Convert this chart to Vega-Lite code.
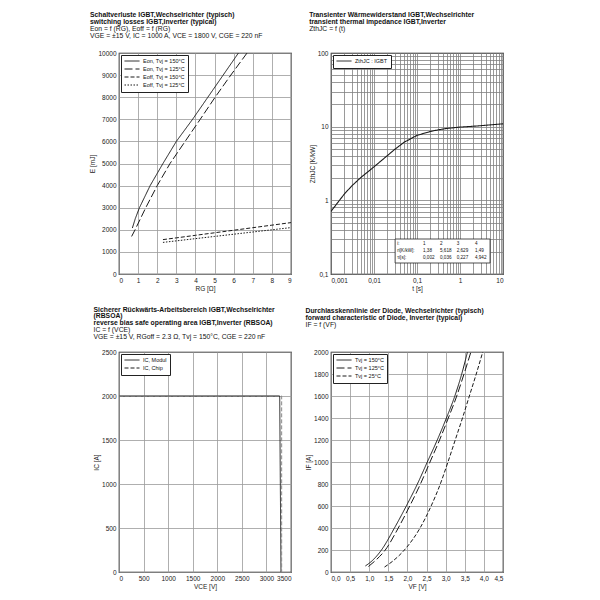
{
  "$schema": "https://vega.github.io/schema/vega-lite/v6.json",
  "background": "white",
  "padding": {"left": 89, "top": 11, "right": 5, "bottom": 5},
  "bounds": "flush",
  "columns": 2,
  "spacing": {"row": 78, "column": 40},
  "resolve": {"scale": {"strokeDash": "independent", "color": "independent"}, "legend": {"strokeDash": "independent"}},
  "config": {
    "font": "Liberation Sans",
    "view": {"stroke": "#111111", "strokeWidth": 1.2},
    "title": {"anchor": "start", "frame": "bounds", "font": "Liberation Sans", "fontSize": 6.8, "fontWeight": "bold", "lineHeight": 6.8, "color": "#111111", "subtitleFont": "Liberation Sans", "subtitleFontSize": 6.8, "subtitleLineHeight": 6.8, "subtitleColor": "#111111", "subtitlePadding": 0.5},
    "axis": {"grid": true, "gridColor": "#9a9a9a", "gridWidth": 0.8, "domain": false, "ticks": false, "labelFont": "Liberation Sans", "labelFontSize": 6.5, "labelColor": "#222222", "labelPadding": 3, "titleFont": "Liberation Sans", "titleFontSize": 6.5, "titleFontWeight": "normal", "titleColor": "#222222", "titlePadding": 2, "labelOverlap": false},
    "legend": {"orient": "top-left", "offset": 2, "strokeColor": "#222222", "fillColor": "white", "padding": 3, "symbolType": "M-1,0H5", "symbolSize": 25, "symbolStrokeColor": "#1a1a1a", "symbolStrokeWidth": 1, "symbolFillColor": "transparent", "labelFont": "Liberation Sans", "labelFontSize": 5.5, "labelOffset": 13, "rowPadding": 1, "labelColor": "#111111", "title": null}
  },
  "concat": [
    {
      "width": 172, "height": 221,
      "title": {"text": ["Schaltverluste IGBT,Wechselrichter (typisch)", "switching losses IGBT,Inverter (typical)"], "subtitle": ["Eon = f (RG), Eoff = f (RG)", "VGE = ±15 V, IC = 1000 A, VCE = 1800 V, CGE = 220 nF"], "offset": 10},
      "data": {"values": [
        {"curve": "Eon, Tvj = 150°C", "RG": 0.7, "E": 2080},
        {"curve": "Eon, Tvj = 150°C", "RG": 0.85, "E": 2500},
        {"curve": "Eon, Tvj = 150°C", "RG": 1.07, "E": 3000},
        {"curve": "Eon, Tvj = 150°C", "RG": 1.63, "E": 4000},
        {"curve": "Eon, Tvj = 150°C", "RG": 2.3, "E": 5000},
        {"curve": "Eon, Tvj = 150°C", "RG": 3.0, "E": 6000},
        {"curve": "Eon, Tvj = 150°C", "RG": 3.85, "E": 7000},
        {"curve": "Eon, Tvj = 150°C", "RG": 4.65, "E": 8000},
        {"curve": "Eon, Tvj = 150°C", "RG": 5.45, "E": 9000},
        {"curve": "Eon, Tvj = 150°C", "RG": 6.25, "E": 10000},
        {"curve": "Eon, Tvj = 125°C", "RG": 0.66, "E": 1700},
        {"curve": "Eon, Tvj = 125°C", "RG": 0.84, "E": 2000},
        {"curve": "Eon, Tvj = 125°C", "RG": 1.4, "E": 3000},
        {"curve": "Eon, Tvj = 125°C", "RG": 2.0, "E": 4000},
        {"curve": "Eon, Tvj = 125°C", "RG": 2.67, "E": 5000},
        {"curve": "Eon, Tvj = 125°C", "RG": 3.46, "E": 6000},
        {"curve": "Eon, Tvj = 125°C", "RG": 4.25, "E": 7000},
        {"curve": "Eon, Tvj = 125°C", "RG": 5.03, "E": 8000},
        {"curve": "Eon, Tvj = 125°C", "RG": 5.85, "E": 9000},
        {"curve": "Eon, Tvj = 125°C", "RG": 6.7, "E": 10000},
        {"curve": "Eoff, Tvj = 150°C", "RG": 2.3, "E": 1556},
        {"curve": "Eoff, Tvj = 150°C", "RG": 3, "E": 1635},
        {"curve": "Eoff, Tvj = 150°C", "RG": 4, "E": 1750},
        {"curve": "Eoff, Tvj = 150°C", "RG": 5, "E": 1865},
        {"curve": "Eoff, Tvj = 150°C", "RG": 6, "E": 1980},
        {"curve": "Eoff, Tvj = 150°C", "RG": 7, "E": 2095},
        {"curve": "Eoff, Tvj = 150°C", "RG": 8, "E": 2210},
        {"curve": "Eoff, Tvj = 150°C", "RG": 9, "E": 2326},
        {"curve": "Eoff, Tvj = 125°C", "RG": 2.3, "E": 1430},
        {"curve": "Eoff, Tvj = 125°C", "RG": 3, "E": 1500},
        {"curve": "Eoff, Tvj = 125°C", "RG": 4, "E": 1600},
        {"curve": "Eoff, Tvj = 125°C", "RG": 5, "E": 1700},
        {"curve": "Eoff, Tvj = 125°C", "RG": 6, "E": 1800},
        {"curve": "Eoff, Tvj = 125°C", "RG": 7, "E": 1900},
        {"curve": "Eoff, Tvj = 125°C", "RG": 8, "E": 2000},
        {"curve": "Eoff, Tvj = 125°C", "RG": 9, "E": 2100}
      ]},
      "mark": {"type": "line", "color": "#1a1a1a", "strokeWidth": 1, "clip": true},
      "encoding": {
        "x": {"field": "RG", "type": "quantitative", "scale": {"domain": [0, 9], "nice": false}, "axis": {"title": "RG [Ω]", "values": [0, 1, 2, 3, 4, 5, 6, 7, 8, 9]}},
        "y": {"field": "E", "type": "quantitative", "scale": {"domain": [0, 10000], "nice": false}, "axis": {"title": "E [mJ]", "values": [0, 1000, 2000, 3000, 4000, 5000, 6000, 7000, 8000, 9000, 10000], "format": "d"}},
        "strokeDash": {"field": "curve", "type": "nominal", "scale": {"domain": ["Eon, Tvj = 150°C", "Eon, Tvj = 125°C", "Eoff, Tvj = 150°C", "Eoff, Tvj = 125°C"], "range": [[1, 0], [8, 3], [4, 2], [1.5, 1.5]]}, "legend": {"title": null}}
      }
    },
    {
      "width": 172, "height": 221,
      "title": {"text": ["Transienter Wärmewiderstand IGBT,Wechselrichter", "transient thermal impedance IGBT,Inverter"], "subtitle": ["ZthJC = f (t)"], "offset": 17},
      "layer": [
        {
          "data": {"values": [
            {"s": "ZthJC : IGBT", "t": 0.001, "Z": 0.709},
            {"s": "ZthJC : IGBT", "t": 0.002, "Z": 1.199},
            {"s": "ZthJC : IGBT", "t": 0.003, "Z": 1.557},
            {"s": "ZthJC : IGBT", "t": 0.005, "Z": 2.054},
            {"s": "ZthJC : IGBT", "t": 0.01, "Z": 2.850},
            {"s": "ZthJC : IGBT", "t": 0.02, "Z": 4.002},
            {"s": "ZthJC : IGBT", "t": 0.03, "Z": 4.891},
            {"s": "ZthJC : IGBT", "t": 0.05, "Z": 6.132},
            {"s": "ZthJC : IGBT", "t": 0.1, "Z": 7.615},
            {"s": "ZthJC : IGBT", "t": 0.2, "Z": 8.575},
            {"s": "ZthJC : IGBT", "t": 0.3, "Z": 9.012},
            {"s": "ZthJC : IGBT", "t": 0.5, "Z": 9.480},
            {"s": "ZthJC : IGBT", "t": 1, "Z": 9.868},
            {"s": "ZthJC : IGBT", "t": 2, "Z": 10.122},
            {"s": "ZthJC : IGBT", "t": 3, "Z": 10.305},
            {"s": "ZthJC : IGBT", "t": 5, "Z": 10.575},
            {"s": "ZthJC : IGBT", "t": 10, "Z": 10.920}
          ]},
          "mark": {"type": "line", "color": "#1a1a1a", "strokeWidth": 1.1, "clip": true},
          "encoding": {
            "x": {"field": "t", "type": "quantitative", "scale": {"type": "log", "domain": [0.001, 10], "nice": false}, "axis": {"title": "t [s]", "gridColor": "#808080", "values": [0.001, 0.002, 0.003, 0.004, 0.005, 0.006, 0.007, 0.008, 0.009, 0.01, 0.02, 0.03, 0.04, 0.05, 0.06, 0.07, 0.08, 0.09, 0.1, 0.2, 0.3, 0.4, 0.5, 0.6, 0.7, 0.8, 0.9, 1, 2, 3, 4, 5, 6, 7, 8, 9, 10], "labelExpr": "datum.value==0.001?'0,001':datum.value==0.01?'0,01':datum.value==0.1?'0,1':datum.value==1?'1':datum.value==10?'10':''"}},
            "y": {"field": "Z", "type": "quantitative", "scale": {"type": "log", "domain": [0.1, 100], "nice": false}, "axis": {"title": "ZthJC [K/kW]", "gridColor": "#808080", "values": [0.1, 0.2, 0.3, 0.4, 0.5, 0.6, 0.7, 0.8, 0.9, 1, 2, 3, 4, 5, 6, 7, 8, 9, 10, 20, 30, 40, 50, 60, 70, 80, 90, 100], "labelExpr": "datum.value==0.1?'0,1':datum.value==1?'1':datum.value==10?'10':datum.value==100?'100':''"}},
            "strokeDash": {"field": "s", "type": "nominal", "scale": {"domain": ["ZthJC : IGBT"], "range": [[1, 0]]}, "legend": {"title": null}}
          }
        },
        {
          "data": {"values": [{"box": "Foster"}]},
          "mark": {"type": "rect", "fill": "white", "stroke": "#222222", "strokeWidth": 0.8},
          "encoding": {"x": {"datum": 0.031}, "x2": {"datum": 5.0}, "y": {"datum": 0.2985}, "y2": {"datum": 0.141}}
        },
        {
          "data": {"values": [
            {"t": 0.0348, "z": 0.253, "txt": "i:"},
            {"t": 0.138, "z": 0.253, "txt": "1"},
            {"t": 0.343, "z": 0.253, "txt": "2"},
            {"t": 0.838, "z": 0.253, "txt": "3"},
            {"t": 2.23, "z": 0.253, "txt": "4"},
            {"t": 0.0348, "z": 0.205, "txt": "ri[K/kW]:"},
            {"t": 0.138, "z": 0.205, "txt": "1,38"},
            {"t": 0.343, "z": 0.205, "txt": "5,618"},
            {"t": 0.838, "z": 0.205, "txt": "2,629"},
            {"t": 2.23, "z": 0.205, "txt": "1,49"},
            {"t": 0.0348, "z": 0.166, "txt": "τi[s]:"},
            {"t": 0.138, "z": 0.166, "txt": "0,002"},
            {"t": 0.343, "z": 0.166, "txt": "0,036"},
            {"t": 0.838, "z": 0.166, "txt": "0,227"},
            {"t": 2.23, "z": 0.166, "txt": "4,942"}
          ]},
          "mark": {"type": "text", "align": "left", "baseline": "middle", "fontSize": 4.6, "font": "Liberation Sans", "color": "#111111"},
          "encoding": {"x": {"field": "t", "type": "quantitative"}, "y": {"field": "z", "type": "quantitative"}, "text": {"field": "txt"}}
        }
      ]
    },
    {
      "width": 172, "height": 220,
      "title": {"text": ["Sicherer Rückwärts-Arbeitsbereich IGBT,Wechselrichter", "(RBSOA)", "reverse bias safe operating area IGBT,Inverter (RBSOA)"], "subtitle": ["IC = f (VCE)", "VGE = ±15 V, RGoff = 2.3 Ω, Tvj = 150°C, CGE = 220 nF"], "offset": 8},
      "data": {"values": [
        {"s": "IC, Modul", "o": 1, "V": 0, "I": 2000},
        {"s": "IC, Modul", "o": 2, "V": 3270, "I": 2000},
        {"s": "IC, Modul", "o": 3, "V": 3296, "I": 0},
        {"s": "IC, Chip", "o": 1, "V": 0, "I": 2000},
        {"s": "IC, Chip", "o": 2, "V": 3310, "I": 2000},
        {"s": "IC, Chip", "o": 3, "V": 3310, "I": 0}
      ]},
      "mark": {"type": "line", "strokeWidth": 1, "clip": true},
      "encoding": {
        "x": {"field": "V", "type": "quantitative", "scale": {"domain": [0, 3500], "nice": false}, "axis": {"title": "VCE [V]", "values": [0, 500, 1000, 1500, 2000, 2500, 3000, 3500], "format": "d"}},
        "y": {"field": "I", "type": "quantitative", "scale": {"domain": [0, 2500], "nice": false}, "axis": {"title": "IC [A]", "values": [0, 500, 1000, 1500, 2000, 2500], "format": "d"}},
        "order": {"field": "o"},
        "color": {"field": "s", "type": "nominal", "scale": {"domain": ["IC, Chip", "IC, Modul"], "range": ["#8a8a8a", "#1a1a1a"]}, "legend": null},
        "strokeDash": {"field": "s", "type": "nominal", "scale": {"domain": ["IC, Modul", "IC, Chip"], "range": [[1, 0], [4, 2]]}, "legend": {"title": null}}
      }
    },
    {
      "width": 172, "height": 220,
      "title": {"text": ["Durchlasskennlinie der Diode, Wechselrichter (typisch)", "forward characteristic of Diode, Inverter (typical)"], "subtitle": ["IF = f (VF)"], "offset": 20},
      "data": {"values": [
        {"s": "Tvj = 150°C", "VF": 0.90, "IF": 55},
        {"s": "Tvj = 150°C", "VF": 1.10, "IF": 110},
        {"s": "Tvj = 150°C", "VF": 1.32, "IF": 200},
        {"s": "Tvj = 150°C", "VF": 1.66, "IF": 400},
        {"s": "Tvj = 150°C", "VF": 1.97, "IF": 600},
        {"s": "Tvj = 150°C", "VF": 2.26, "IF": 800},
        {"s": "Tvj = 150°C", "VF": 2.52, "IF": 1000},
        {"s": "Tvj = 150°C", "VF": 2.78, "IF": 1200},
        {"s": "Tvj = 150°C", "VF": 3.02, "IF": 1400},
        {"s": "Tvj = 150°C", "VF": 3.24, "IF": 1600},
        {"s": "Tvj = 150°C", "VF": 3.42, "IF": 1800},
        {"s": "Tvj = 150°C", "VF": 3.57, "IF": 2000},
        {"s": "Tvj = 125°C", "VF": 0.98, "IF": 50},
        {"s": "Tvj = 125°C", "VF": 1.18, "IF": 110},
        {"s": "Tvj = 125°C", "VF": 1.42, "IF": 200},
        {"s": "Tvj = 125°C", "VF": 1.76, "IF": 400},
        {"s": "Tvj = 125°C", "VF": 2.06, "IF": 600},
        {"s": "Tvj = 125°C", "VF": 2.34, "IF": 800},
        {"s": "Tvj = 125°C", "VF": 2.59, "IF": 1000},
        {"s": "Tvj = 125°C", "VF": 2.84, "IF": 1200},
        {"s": "Tvj = 125°C", "VF": 3.07, "IF": 1400},
        {"s": "Tvj = 125°C", "VF": 3.29, "IF": 1600},
        {"s": "Tvj = 125°C", "VF": 3.48, "IF": 1800},
        {"s": "Tvj = 125°C", "VF": 3.66, "IF": 2000},
        {"s": "Tvj = 25°C", "VF": 1.40, "IF": 45},
        {"s": "Tvj = 25°C", "VF": 1.62, "IF": 100},
        {"s": "Tvj = 25°C", "VF": 1.92, "IF": 200},
        {"s": "Tvj = 25°C", "VF": 2.33, "IF": 400},
        {"s": "Tvj = 25°C", "VF": 2.62, "IF": 600},
        {"s": "Tvj = 25°C", "VF": 2.86, "IF": 800},
        {"s": "Tvj = 25°C", "VF": 3.06, "IF": 1000},
        {"s": "Tvj = 25°C", "VF": 3.25, "IF": 1200},
        {"s": "Tvj = 25°C", "VF": 3.44, "IF": 1400},
        {"s": "Tvj = 25°C", "VF": 3.62, "IF": 1600},
        {"s": "Tvj = 25°C", "VF": 3.80, "IF": 1800},
        {"s": "Tvj = 25°C", "VF": 3.97, "IF": 2000}
      ]},
      "mark": {"type": "line", "color": "#1a1a1a", "strokeWidth": 1, "clip": true, "interpolate": "monotone"},
      "encoding": {
        "x": {"field": "VF", "type": "quantitative", "scale": {"domain": [0, 4.5], "nice": false}, "axis": {"title": "VF [V]", "values": [0, 0.5, 1, 1.5, 2, 2.5, 3, 3.5, 4, 4.5], "labelExpr": "replace(format(datum.value,'.1f'),'.',',')"}},
        "y": {"field": "IF", "type": "quantitative", "scale": {"domain": [0, 2000], "nice": false}, "axis": {"title": "IF [A]", "values": [0, 200, 400, 600, 800, 1000, 1200, 1400, 1600, 1800, 2000], "format": "d"}},
        "strokeDash": {"field": "s", "type": "nominal", "scale": {"domain": ["Tvj = 150°C", "Tvj = 125°C", "Tvj = 25°C"], "range": [[1, 0], [8, 3], [4, 2]]}, "legend": {"title": null}}
      }
    }
  ]
}
